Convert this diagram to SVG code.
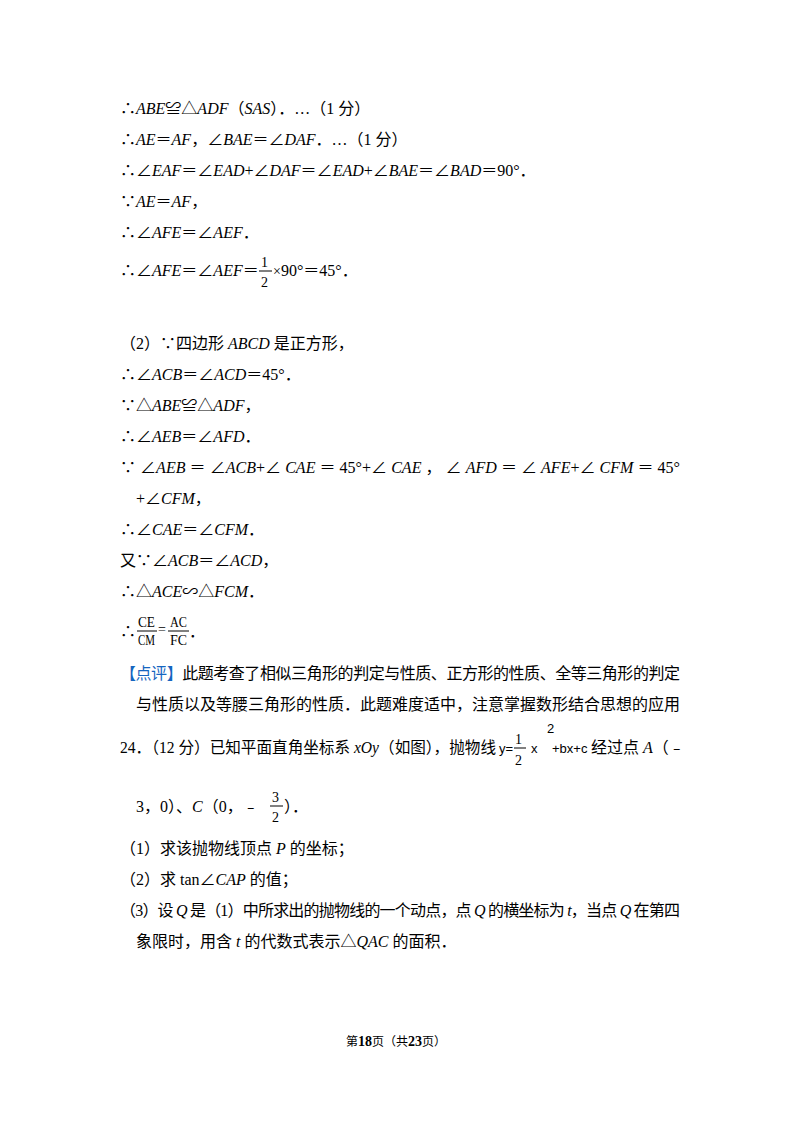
<svg xmlns="http://www.w3.org/2000/svg" width="800" height="1132" viewBox="0 0 800 1132">
<style>
text{font-family:"Liberation Serif","Noto Sans CJK SC",serif;font-size:16px;fill:#000}
.i{font-style:italic}
.s{font-size:14px}
.f{font-family:"Liberation Sans","Noto Sans CJK SC",sans-serif;font-size:13px}
.b{fill:#1565c0}
.ft{font-size:12px}
.fb{font-size:14px;font-weight:bold}
line{stroke:#000;stroke-width:1}
</style>
<rect width="800" height="1132" fill="#fff"/>
<g id="body">
<text x="120" y="114">∴<tspan class="i">ABE</tspan>≌△<tspan class="i">ADF</tspan>（<tspan class="i">SAS</tspan>）．…（1 分）</text>
<text x="120" y="145">∴<tspan class="i">AE</tspan>＝<tspan class="i">AF</tspan>，∠<tspan class="i">BAE</tspan>＝∠<tspan class="i">DAF</tspan>．…（1 分）</text>
<text x="120" y="176">∴∠<tspan class="i">EAF</tspan>＝∠<tspan class="i">EAD</tspan>+∠<tspan class="i">DAF</tspan>＝∠<tspan class="i">EAD</tspan>+∠<tspan class="i">BAE</tspan>＝∠<tspan class="i">BAD</tspan>＝90°．</text>
<text x="120" y="207">∵<tspan class="i">AE</tspan>＝<tspan class="i">AF</tspan>，</text>
<text x="120" y="238">∴∠<tspan class="i">AFE</tspan>＝∠<tspan class="i">AEF</tspan>．</text>
<text x="120" y="276">∴∠<tspan class="i">AFE</tspan>＝∠<tspan class="i">AEF</tspan>＝</text>
<text x="261" y="267" class="s">1</text><line x1="259" y1="271" x2="272" y2="271"/><text x="261" y="287" class="s">2</text>
<text x="273" y="276"><tspan class="s">×</tspan>90°＝45°．</text>
<text x="120" y="349">（2）∵四边形 <tspan class="i">ABCD</tspan> 是正方形，</text>
<text x="120" y="380">∴∠<tspan class="i">ACB</tspan>＝∠<tspan class="i">ACD</tspan>＝45°．</text>
<text x="120" y="411">∵△<tspan class="i">ABE</tspan>≌△<tspan class="i">ADF</tspan>，</text>
<text x="120" y="442">∴∠<tspan class="i">AEB</tspan>＝∠<tspan class="i">AFD</tspan>．</text>
<text x="120" y="473" textLength="560" lengthAdjust="spacing">∵ ∠<tspan class="i">AEB</tspan> ＝ ∠<tspan class="i">ACB</tspan>+∠ <tspan class="i">CAE</tspan> ＝ 45°+∠ <tspan class="i">CAE</tspan> ， ∠ <tspan class="i">AFD</tspan> ＝ ∠ <tspan class="i">AFE</tspan>+∠ <tspan class="i">CFM</tspan> ＝ 45°</text>
<text x="136" y="504">+∠<tspan class="i">CFM</tspan>，</text>
<text x="120" y="535">∴∠<tspan class="i">CAE</tspan>＝∠<tspan class="i">CFM</tspan>．</text>
<text x="120" y="566">又∵∠<tspan class="i">ACB</tspan>＝∠<tspan class="i">ACD</tspan>，</text>
<text x="120" y="597">∴△<tspan class="i">ACE</tspan>∽△<tspan class="i">FCM</tspan>．</text>
<text x="120" y="637">∴</text>
<text x="138" y="627" class="s" textLength="17" lengthAdjust="spacingAndGlyphs">CE</text><line x1="137" y1="631" x2="157" y2="631"/><text x="138" y="645" class="s" textLength="17" lengthAdjust="spacingAndGlyphs">CM</text>
<text x="158" y="634" class="s">=</text>
<text x="170" y="627" class="s" textLength="17" lengthAdjust="spacingAndGlyphs">AC</text><line x1="168" y1="631" x2="189" y2="631"/><text x="170" y="645" class="s" textLength="17" lengthAdjust="spacingAndGlyphs">FC</text>
<text x="189" y="637">．</text>
<text x="120" y="679" textLength="560" lengthAdjust="spacing"><tspan class="b">【点评】</tspan>此题考查了相似三角形的判定与性质、正方形的性质、全等三角形的判定</text>
<text x="136" y="710" textLength="544" lengthAdjust="spacing">与性质以及等腰三角形的性质．此题难度适中，注意掌握数形结合思想的应用</text>
<text x="120" y="753" textLength="376" lengthAdjust="spacingAndGlyphs">24．（12 分）已知平面直角坐标系 <tspan class="i">xOy</tspan>（如图），抛物线</text>
<text x="499" y="753" class="f">y=</text>
<text x="515" y="744" class="s">1</text><line x1="514" y1="748" x2="526" y2="748"/><text x="515" y="765" class="s">2</text>
<text x="531" y="753" class="f">x</text>
<text x="547" y="733" class="f">2</text>
<text x="552" y="753" class="f">+bx+c</text>
<text x="591" y="753">经过点 <tspan class="i">A</tspan>（﹣</text>
<text x="136" y="812">3，0）、<tspan class="i">C</tspan>（0，﹣</text>
<text x="272" y="802" class="s">3</text><line x1="270" y1="806" x2="283" y2="806"/><text x="272" y="822" class="s">2</text>
<text x="284" y="812">）．</text>
<text x="120" y="854">（1）求该抛物线顶点 <tspan class="i">P</tspan> 的坐标；</text>
<text x="120" y="885">（2）求 tan∠<tspan class="i">CAP</tspan> 的值；</text>
<text x="120" y="916" textLength="560" lengthAdjust="spacing">（3）设 <tspan class="i">Q</tspan> 是（1）中所求出的抛物线的一个动点，点 <tspan class="i">Q</tspan> 的横坐标为 <tspan class="i">t</tspan>，当点 <tspan class="i">Q</tspan> 在第四</text>
<text x="136" y="947">象限时，用含 <tspan class="i">t</tspan> 的代数式表示△<tspan class="i">QAC</tspan> 的面积．</text>
</g>
<g id="footer">
<text x="346" y="1046" class="ft">第<tspan class="fb">18</tspan>页（共<tspan class="fb">23</tspan>页）</text>
</g>
</svg>
